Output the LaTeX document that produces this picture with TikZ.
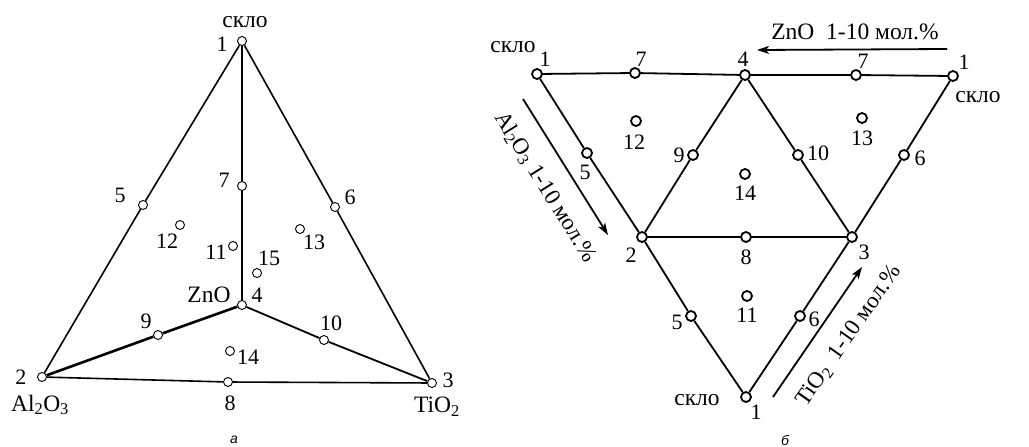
\documentclass[tikz,border=0pt]{standalone}
\usepackage{fontspec}
\setmainfont{Liberation Serif}
\newfontfamily\capfont{Liberation Sans}
\usetikzlibrary{arrows.meta}
\begin{document}
\begin{tikzpicture}[x=1pt,y=-1pt,
  dotA/.style={circle,draw,fill=white,inner sep=0pt,minimum size=9pt,line width=0.9pt},
  dotB/.style={circle,draw,fill=white,inner sep=0pt,minimum size=10pt,line width=1.8pt},
  lbl/.style={font=\fontsize{22}{22}\selectfont,inner sep=0pt},
  txt/.style={font=\fontsize{23.5}{23.5}\selectfont,inner sep=0pt},
  rtxt/.style={font=\fontsize{23}{23}\selectfont,inner sep=0pt},
  figcap/.style={font=\capfont\itshape\fontsize{14}{14}\selectfont,inner sep=0pt},
  edgeA/.style={line width=1.6pt},
  edgeB/.style={line width=2.6pt},
  edgeC/.style={line width=1.8pt},
  arr/.style={line width=1.8pt,-{Stealth[length=12pt,width=8pt,inset=3pt]}}]
\useasboundingbox (0,0) rectangle (1029,447);

% ---------------- left figure (a) ----------------
\node[dotA] (a1) at (242,41) {};
\node[dotA] (a2) at (42,377) {};
\node[dotA] (a3) at (432,383) {};
\node[dotA] (a4) at (242,305) {};
\node[dotA] (a5) at (143,205) {};
\node[dotA] (a6) at (335,207) {};
\node[dotA] (a7) at (242,186) {};
\node[dotA] (a8) at (228,382) {};
\node[dotA] (a9) at (158,335) {};
\node[dotA] (a10) at (324,340) {};
\node[dotA] (a11) at (233,246) {};
\node[dotA] (a12) at (180,225) {};
\node[dotA] (a13) at (300,229) {};
\node[dotA] (a14) at (230,351) {};
\node[dotA] (a15) at (257,273) {};

\draw[edgeA] (a1) -- (a5) -- (a2);
\draw[edgeA] (a1) -- (a6) -- (a3);
\draw[edgeA] (a2) -- (a8) -- (a3);
\draw[edgeB] (a1) -- (a7) -- (a4);
\draw[edgeB] (a2) -- (a9) -- (a4);
\draw[edgeC] (a4) -- (a10) -- (a3);

\node[txt] (ta1) at (245,22) {скло};
\node[lbl] (la1) at (222,44) {1};
\node[lbl] (la5) at (120,195) {5};
\node[lbl] (la6) at (350,197) {6};
\node[lbl] (la7) at (224,180) {7};
\node[lbl] (la12) at (167,241) {12};
\node[lbl] (la11) at (216,252) {11};
\node[lbl] (la15) at (269,258) {15};
\node[lbl] (la13) at (314,242) {13};
\node[txt] (tzno) at (209,295) {ZnO};
\node[lbl] (la4) at (257,295) {4};
\node[lbl] (la9) at (146,321) {9};
\node[lbl] (la10) at (331,323) {10};
\node[lbl] (la14) at (248,357) {14};
\node[lbl] (la2) at (21,377) {2};
\node[txt] (tal) at (40,405) {Al\textsubscript{2}O\textsubscript{3}};
\node[lbl] (la8) at (230,403) {8};
\node[lbl] (la3) at (448,380) {3};
\node[txt] (tti) at (437,407) {TiO\textsubscript{2}};
\node[figcap] (capa) at (234,440) {а};

% ---------------- right figure (b) ----------------
\node[dotB] (b1l) at (537,74) {};
\node[dotB] (b7l) at (635,73) {};
\node[dotB] (b4) at (745,75) {};
\node[dotB] (b7r) at (856,75) {};
\node[dotB] (b1r) at (953,76) {};
\node[dotB] (b5u) at (587,153) {};
\node[dotB] (b9) at (693,155) {};
\node[dotB] (b10) at (798,155) {};
\node[dotB] (b6u) at (904,155) {};
\node[dotB] (b2) at (642,237) {};
\node[dotB] (b8) at (746,237) {};
\node[dotB] (b3) at (852,237) {};
\node[dotB] (b5l) at (691,316) {};
\node[dotB] (b6l) at (800,316) {};
\node[dotB] (b1b) at (746,397) {};
\node[dotB] (b12) at (636,121) {};
\node[dotB] (b13) at (862,118) {};
\node[dotB] (b14) at (745,174) {};
\node[dotB] (b11) at (747,296) {};

\draw[edgeC] (b1l) -- (b7l) -- (b4) -- (b7r) -- (b1r);
\draw[edgeC] (b1l) -- (b5u) -- (b2);
\draw[edgeC] (b4) -- (b9) -- (b2);
\draw[edgeC] (b4) -- (b10) -- (b3);
\draw[edgeC] (b1r) -- (b6u) -- (b3);
\draw[edgeC] (b2) -- (b8) -- (b3);
\draw[edgeC] (b2) -- (b5l) -- (b1b);
\draw[edgeC] (b3) -- (b6l) -- (b1b);

\node[txt] (tb1l) at (513,47) {скло};
\node[lbl] (lb1l) at (545,59) {1};
\node[lbl] (lb7l) at (641,59) {7};
\node[lbl] (lb4) at (743,59) {4};
\node[lbl] (lb7r) at (863,61) {7};
\node[lbl] (lb1r) at (964,62) {1};
\node[txt] (tb1r) at (978,97) {скло};
\node[lbl] (lb12) at (634,142) {12};
\node[lbl] (lb13) at (862,138) {13};
\node[lbl] (lb9) at (679,155) {9};
\node[lbl] (lb10) at (818,153) {10};
\node[lbl] (lb6u) at (920,158) {6};
\node[lbl] (lb5u) at (585,172) {5};
\node[lbl] (lb14) at (745,193) {14};
\node[lbl] (lb2) at (631,255) {2};
\node[lbl] (lb8) at (746,257) {8};
\node[lbl] (lb3) at (864,252) {3};
\node[lbl] (lb11) at (747,315) {11};
\node[lbl] (lb5l) at (677,322) {5};
\node[lbl] (lb6l) at (814,319) {6};
\node[txt] (tb1b) at (697,400) {скло};
\node[lbl] (lb1b) at (756,412) {1};

% arrows with labels
\coordinate (zs) at (947,49);
\coordinate (ze) at (757,50);
\draw[arr] (zs) -- (ze);
\node[txt] (tzn) at (855,32) {ZnO\ \ 1-10 мол.\%};

\coordinate (as) at (523,99);
\coordinate (ae) at (608,235);
\draw[arr] (as) -- (ae);
\node[rtxt,rotate=-58] (talr) at (545,187) {Al\textsubscript{2}O\textsubscript{3} 1-10 мол.\%};

\coordinate (ts) at (773,397);
\coordinate (te) at (862,267);
\draw[arr] (ts) -- (te);
\node[rtxt,rotate=55] (ttir) at (849,336) {TiO\textsubscript{2}\ \ 1-10 мол.\%};

\node[figcap] (capb) at (785,440) {б};
\end{tikzpicture}
\end{document}
